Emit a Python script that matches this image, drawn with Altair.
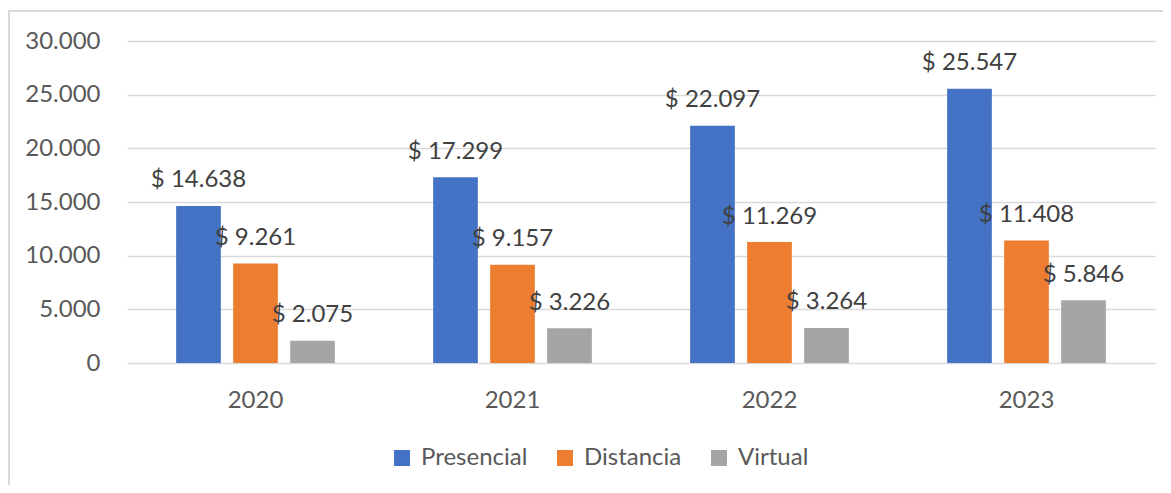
import altair as alt
import pandas as pd

years = ["2020", "2021", "2022", "2023"]
series = ["Presencial", "Distancia", "Virtual"]
presencial = [14638, 17299, 22097, 25547]
distancia = [9261, 9157, 11269, 11408]
virtual = [2075, 3226, 3264, 5846]
colors = ["#4472C4", "#ED7D31", "#A5A5A5"]
y_ticks = [0, 5000, 10000, 15000, 20000, 25000, 30000]

rows = []
for name, vals in zip(series, [presencial, distancia, virtual]):
    for yr, v in zip(years, vals):
        rows.append({"year": yr, "series": name, "value": v,
                     "label": "$ " + f"{v:,}".replace(",", ".")})
df = pd.DataFrame(rows)

FONT = "Lato"

x_enc = alt.X(
    "year:N",
    sort=years,
    scale=alt.Scale(paddingInner=0.3825, paddingOuter=0.19125),
    axis=alt.Axis(title=None, labelAngle=0, domain=False, ticks=False,
                  labelPadding=25, labelFontSize=24, labelColor="#595959",
                  labelFont=FONT, grid=False),
)
xo_enc = alt.XOffset("series:N", sort=series,
                     scale=alt.Scale(domain=series, paddingInner=0.216, paddingOuter=0))
y_enc = alt.Y(
    "value:Q",
    scale=alt.Scale(domain=[0, 30000], nice=False),
    axis=alt.Axis(title=None, values=y_ticks, domain=False, ticks=False,
                  labelPadding=27, labelFontSize=24, labelColor="#595959",
                  labelFont=FONT, gridColor="#D9D9D9", gridWidth=1.5,
                  labelExpr="replace(format(datum.value, ','), ',', '.')"),
)

bars = alt.Chart(df).mark_bar().encode(
    x=x_enc,
    xOffset=xo_enc,
    y=y_enc,
    color=alt.Color(
        "series:N", sort=series,
        scale=alt.Scale(domain=series, range=colors),
        legend=alt.Legend(
            title=None, orient="none", direction="horizontal",
            legendX=263, legendY=405, padding=0,
            symbolType="square", symbolSize=256, symbolStrokeWidth=0,
            labelFont=FONT, labelFontSize=24, labelColor="#595959",
            labelOffset=7, columnPadding=25,
        ),
    ),
)

labels = alt.Chart(df).mark_text(
    font=FONT, fontSize=24, color="#404040", baseline="alphabetic", dy=-18.5
).encode(
    x=x_enc,
    xOffset=xo_enc,
    y=y_enc,
    text="label:N",
)

frame_df = pd.DataFrame({"f": [0]})
frame = alt.Chart(frame_df).mark_rect(
    fill=None, stroke="#D9D9D9", strokeWidth=2
).encode(
    x=alt.value(-118), x2=alt.value(1100),
    y=alt.value(-30), y2=alt.value(500),
)

chart = alt.layer(frame, bars, labels).properties(
    width=1028, height=322,
    autosize=alt.AutoSizeParams(type="none"),
    padding={"left": 119, "top": 33, "right": 8, "bottom": 122},
).configure_view(stroke=None)

chart.save("out.html", embed_options={"renderer": "svg", "actions": False})
